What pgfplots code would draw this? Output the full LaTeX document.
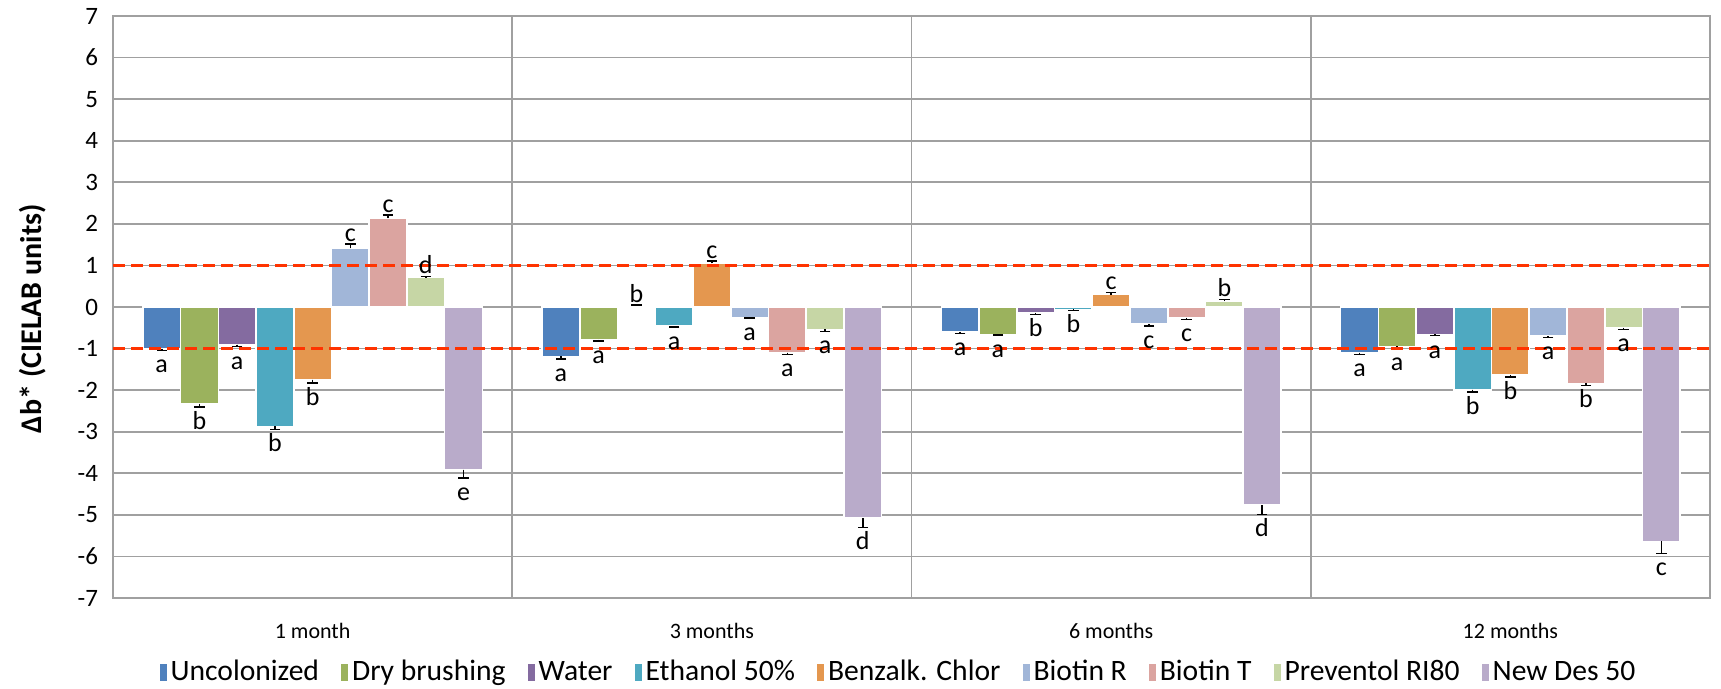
\documentclass[border=0pt]{standalone}
\usepackage{pgfplots}
\pgfplotsset{compat=1.18}
\usepackage{pgfplotstable}
\usepackage{fontspec}
\setmainfont{Carlito}

\definecolor{cUnc}{HTML}{4F81BD}
\definecolor{cDry}{HTML}{9BB25D}
\definecolor{cWat}{HTML}{846BA0}
\definecolor{cEth}{HTML}{4EA9C1}
\definecolor{cBen}{HTML}{E4974F}
\definecolor{cBiR}{HTML}{A1B6D8}
\definecolor{cBiT}{HTML}{DBA4A0}
\definecolor{cPre}{HTML}{C6D6A5}
\definecolor{cNew}{HTML}{B9ABCA}
\definecolor{cRed}{HTML}{FF3300}
\definecolor{cGrid}{HTML}{A0A0A0}

% x = month group, y = delta b*, e = signed error, lab = letter
\pgfplotstableread{
x y e lab
1 -1.00 -0.05 a
2 -1.19 -0.06 a
3 -0.60 -0.04 a
4 -1.10 -0.04 a
}\tUnc
\pgfplotstableread{
x y e lab
1 -2.33 -0.07 b
2 -0.79 -0.03 a
3 -0.66 -0.02 a
4 -0.95 -0.05 a
}\tDry
\pgfplotstableread{
x y e lab
1 -0.905 -0.05 a
2 0.03 0.02 b
3 -0.14 -0.04 b
4 -0.66 -0.03 a
}\tWat
\pgfplotstableread{
x y e lab
1 -2.87 -0.08 b
2 -0.46 -0.02 a
3 -0.06 -0.02 b
4 -1.99 -0.06 b
}\tEth
\pgfplotstableread{
x y e lab
1 -1.75 -0.08 b
2 1.05 0.05 c
3 0.30 0.05 c
4 -1.63 -0.06 b
}\tBen
\pgfplotstableread{
x y e lab
1 1.41 0.11 c
2 -0.26 -0.01 a
3 -0.40 -0.06 c
4 -0.70 -0.03 a
}\tBiR
\pgfplotstableread{
x y e lab
1 2.13 0.08 c
2 -1.10 -0.04 a
3 -0.26 -0.04 c
4 -1.84 -0.05 b
}\tBiT
\pgfplotstableread{
x y e lab
1 0.705 0.03 d
2 -0.54 -0.05 a
3 0.14 0.04 b
4 -0.50 -0.04 a
}\tPre
\pgfplotstableread{
x y e lab
1 -3.91 -0.20 e
2 -5.08 -0.22 d
3 -4.77 -0.22 d
4 -5.64 -0.29 c
}\tNew

% bars sit side by side, 0.0945 of a group each (= 18.865pt)
\pgfplotsset{
  treat/.style={
    ybar, bar width=18.865pt, bar shift=0pt,
    draw=white, line width=0.8pt,
    error bars/y dir=plus, error bars/y explicit,
    error bars/error bar style={black, line width=0.8pt},
    error bars/error mark options={rotate=90, black, mark size=2.6pt, line width=0.8pt},
  },
  lbl/.style={
    ybar, bar width=18.865pt, bar shift=0pt, draw=none, fill=none, forget plot,
    nodes near coords, point meta=explicit symbolic,
    every node near coord/.append style={font=\fontsize{13}{15}\selectfont,
      black, inner sep=1pt},
  },
}

\begin{document}
\begin{tikzpicture}
\begin{axis}[name=ax, scale only axis, width=798.5pt, height=291pt,
  xmin=0.5, xmax=4.5, ymin=-7, ymax=7,
  ytick={-7,-6,...,7},
  xtick={1,2,3,4}, xticklabels={1 month,3 months,6 months,12 months},
  minor xtick={1.5,2.5,3.5},
  xminorgrids=true, ymajorgrids=true, xmajorgrids=false,
  major tick length=0pt, minor tick length=0pt,
  grid style={cGrid, line width=0.8pt},
  minor grid style={cGrid, line width=0.8pt},
  axis line style={cGrid, line width=0.8pt},
  /pgf/number format/assume math mode=true,
  yticklabel style={font=\fontsize{12.5}{14}\selectfont, xshift=-4pt},
  xticklabel style={font=\fontsize{11}{13}\selectfont, yshift=-9pt},
  ylabel={\bfseries Δb* (CIELAB units)},
  every axis y label/.style={at={(axis description cs:0,0.48)}, xshift=-40pt,
    rotate=90, anchor=center, font=\fontsize{15}{17}\selectfont},
  legend columns=9,
  legend style={at={(0.5,0)}, anchor=north, xshift=-6pt, yshift=-29pt, draw=none, fill=none,
    font=\fontsize{14.8}{16}\selectfont, inner sep=0pt,
    /tikz/every even column/.append style={column sep=9pt}},
  legend image code/.code={\fill[#1, draw=none] (0pt,-4.5pt) rectangle (3.5pt,4pt);},
]
\addplot[treat, fill=cUnc] table[x expr=\thisrow{x}-4*0.0945, y=y, y error=e] {\tUnc};
\addlegendentry{Uncolonized}
\addplot[treat, fill=cDry] table[x expr=\thisrow{x}-3*0.0945, y=y, y error=e] {\tDry};
\addlegendentry{Dry brushing}
\addplot[treat, fill=cWat] table[x expr=\thisrow{x}-2*0.0945, y=y, y error=e] {\tWat};
\addlegendentry{Water}
\addplot[treat, fill=cEth] table[x expr=\thisrow{x}-1*0.0945, y=y, y error=e] {\tEth};
\addlegendentry{Ethanol 50\%}
\addplot[treat, fill=cBen] table[x expr=\thisrow{x}, y=y, y error=e] {\tBen};
\addlegendentry{Benzalk. Chlor}
\addplot[treat, fill=cBiR] table[x expr=\thisrow{x}+1*0.0945, y=y, y error=e] {\tBiR};
\addlegendentry{Biotin R}
\addplot[treat, fill=cBiT] table[x expr=\thisrow{x}+2*0.0945, y=y, y error=e] {\tBiT};
\addlegendentry{Biotin T}
\addplot[treat, fill=cPre] table[x expr=\thisrow{x}+3*0.0945, y=y, y error=e] {\tPre};
\addlegendentry{Preventol RI80}
\addplot[treat, fill=cNew] table[x expr=\thisrow{x}+4*0.0945, y=y, y error=e] {\tNew};
\addlegendentry{New Des 50}
% significance letters: above the cap for positive bars, below it for negative ones
\addplot[lbl] table[x expr=\thisrow{x}-4*0.0945, y expr=\thisrow{y}+\thisrow{e}-0.6*(\thisrow{y}<0), meta=lab] {\tUnc};
\addplot[lbl] table[x expr=\thisrow{x}-3*0.0945, y expr=\thisrow{y}+\thisrow{e}-0.6*(\thisrow{y}<0), meta=lab] {\tDry};
\addplot[lbl] table[x expr=\thisrow{x}-2*0.0945, y expr=\thisrow{y}+\thisrow{e}-0.6*(\thisrow{y}<0), meta=lab] {\tWat};
\addplot[lbl] table[x expr=\thisrow{x}-1*0.0945, y expr=\thisrow{y}+\thisrow{e}-0.6*(\thisrow{y}<0), meta=lab] {\tEth};
\addplot[lbl] table[x expr=\thisrow{x}, y expr=\thisrow{y}+\thisrow{e}-0.6*(\thisrow{y}<0), meta=lab] {\tBen};
\addplot[lbl] table[x expr=\thisrow{x}+1*0.0945, y expr=\thisrow{y}+\thisrow{e}-0.6*(\thisrow{y}<0), meta=lab] {\tBiR};
\addplot[lbl] table[x expr=\thisrow{x}+2*0.0945, y expr=\thisrow{y}+\thisrow{e}-0.6*(\thisrow{y}<0), meta=lab] {\tBiT};
\addplot[lbl] table[x expr=\thisrow{x}+3*0.0945, y expr=\thisrow{y}+\thisrow{e}-0.6*(\thisrow{y}<0), meta=lab] {\tPre};
\addplot[lbl] table[x expr=\thisrow{x}+4*0.0945, y expr=\thisrow{y}+\thisrow{e}-0.6*(\thisrow{y}<0), meta=lab] {\tNew};
% threshold lines at +-1
\addplot[sharp plot, forget plot, cRed, line width=1.6pt, dash pattern=on 6pt off 3pt]
  coordinates {(0.5,1) (4.5,1)};
\addplot[sharp plot, forget plot, cRed, line width=1.6pt, dash pattern=on 6pt off 3pt]
  coordinates {(0.5,-1) (4.5,-1)};
\end{axis}
\pgfresetboundingbox
\path ([shift={(-56.5pt,-45.5pt)}]ax.south west) rectangle ([shift={(5.5pt,8pt)}]ax.north east);
\end{tikzpicture}
\end{document}
